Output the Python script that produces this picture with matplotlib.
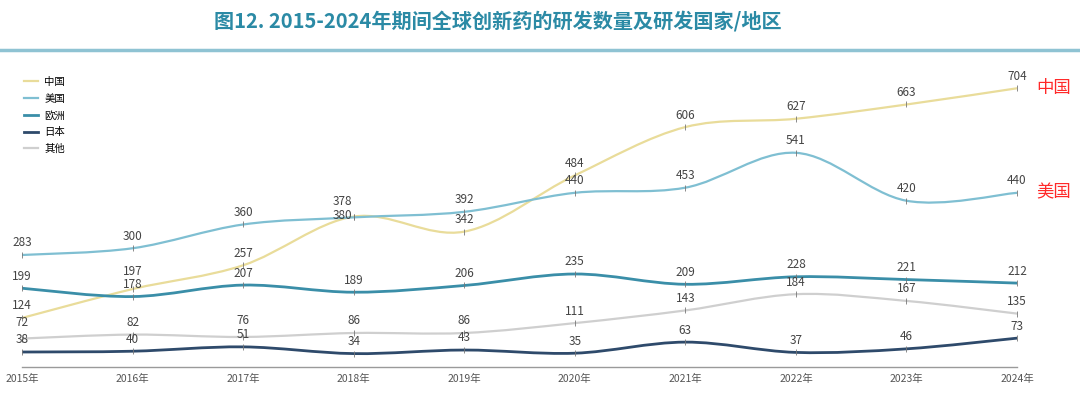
import matplotlib
matplotlib.use("Agg")
import matplotlib.pyplot as plt
from matplotlib.path import Path
from matplotlib.patches import PathPatch
from matplotlib.lines import Line2D
import numpy as np

plt.rcParams['font.family'] = ['Noto Sans CJK SC', 'DejaVu Sans']

years = [2015, 2016, 2017, 2018, 2019, 2020, 2021, 2022, 2023, 2024]
year_labels = [f"{y}年" for y in years]

china = [124, 197, 257, 380, 342, 484, 606, 627, 663, 704]
usa = [283, 300, 360, 378, 392, 440, 453, 541, 420, 440]
europe = [199, 178, 207, 189, 206, 235, 209, 228, 221, 212]
japan = [38, 40, 51, 34, 43, 35, 63, 37, 46, 73]
others = [72, 82, 76, 86, 86, 111, 143, 184, 167, 135]

series_names = ["中国", "美国", "欧洲", "日本", "其他"]
series_values = [china, usa, europe, japan, others]
colors = ["#e9dc9a", "#7fbfd2", "#3a8ea8", "#2e4a6b", "#cfcfcf"]
widths = [1.6, 1.6, 2.0, 2.0, 1.6]

# label offsets (points) for crowded spots
offsets = {("中国", 3): (-8, -4), ("美国", 3): (-8, 7),
           ("中国", 1): (0, 8), ("其他", 2): (0, 7), ("其他", 0): (0, 7)}


def smooth_path(x, y):
    # Catmull-Rom spline turned into cubic bezier segments
    pts = np.column_stack([x, y]).astype(float)
    n = len(pts)
    verts = [pts[0]]
    codes = [Path.MOVETO]
    for i in range(n - 1):
        p0 = pts[max(i - 1, 0)]
        p1 = pts[i]
        p2 = pts[i + 1]
        p3 = pts[min(i + 2, n - 1)]
        c1 = p1 + (p2 - p0) / 6
        c2 = p2 - (p3 - p1) / 6
        verts += [c1, c2, p2]
        codes += [Path.CURVE4] * 3
    return Path(verts, codes)


fig = plt.figure(figsize=(10.8, 3.93), dpi=100)
ax = fig.add_axes([0.0204, 0.066, 0.9213, 0.786])

for name, vals, c, lw in zip(series_names, series_values, colors, widths):
    ax.add_patch(PathPatch(smooth_path(years, vals), facecolor="none",
                           edgecolor=c, lw=lw, capstyle="round"))
    ax.plot(years, vals, ls="none", marker="|", ms=4, mew=0.6, color="#777777")
    for i, (xv, yv) in enumerate(zip(years, vals)):
        dx, dy = offsets.get((name, i), (0, 4))
        ax.annotate(str(yv), (xv, yv), xytext=(dx, dy), textcoords="offset points",
                    ha="center", va="bottom", fontsize=8.5, color="#444444")

ax.set_xlim(2015, 2024)
ax.set_ylim(0, 780)
ax.set_yticks([])
ax.set_xticks(years)
ax.set_xticklabels(year_labels, fontsize=7.5, color="#555555")
ax.tick_params(axis="x", length=0, pad=5)
for s in ["top", "right", "left"]:
    ax.spines[s].set_visible(False)
ax.spines["bottom"].set_color("#9a9a9a")
ax.spines["bottom"].set_linewidth(1.0)
ax.patch.set_alpha(0)

handles = [Line2D([0], [0], color=c, lw=lw) for c, lw in zip(colors, widths)]
fig.legend(handles, series_names, loc="upper left", bbox_to_anchor=(0.018, 0.815),
           frameon=False, fontsize=7.5, handlelength=1.4, handletextpad=0.6,
           labelspacing=0.65, borderaxespad=0)

# red side notes
ax.annotate("中国", (2024, china[-1]), xytext=(14, 0), textcoords="offset points",
            ha="left", va="center", fontsize=12.5, color="#ff2a2a")
ax.annotate("美国", (2024, usa[-1]), xytext=(14, 0), textcoords="offset points",
            ha="left", va="center", fontsize=12.5, color="#ff2a2a")

fig.text(0.461, 0.947, "图12. 2015-2024年期间全球创新药的研发数量及研发国家/地区",
         ha="center", va="center", fontsize=14.5, fontweight="bold", color="#2b8aa5")
fig.add_artist(Line2D([0, 1], [0.873, 0.873], transform=fig.transFigure,
                      color="#8fc3d3", lw=2.5))

fig.savefig("out.png", dpi=100)
